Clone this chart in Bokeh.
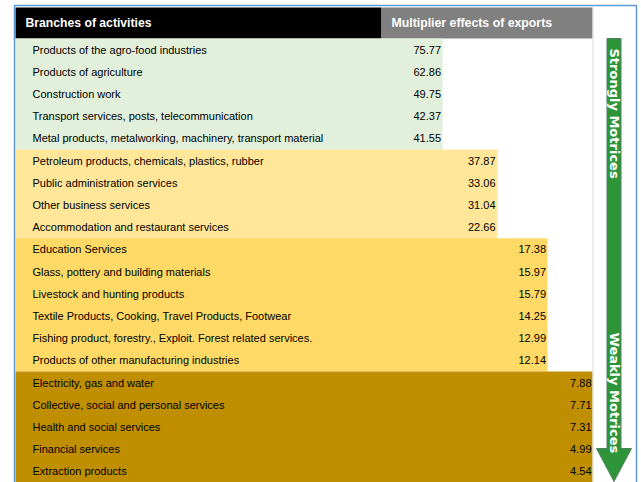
import math
from bokeh.plotting import figure
from bokeh.models import Range1d
from bokeh.core.properties import value
from bokeh.embed import file_html
from bokeh.resources import INLINE

# ---------------- data ----------------
header_left = "Branches of activities"
header_right = "Multiplier effects of exports"

branches = [
    "Products of the agro-food industries",
    "Products of agriculture",
    "Construction work",
    "Transport services, posts, telecommunication",
    "Metal products, metalworking, machinery, transport material",
    "Petroleum products, chemicals, plastics, rubber",
    "Public administration services",
    "Other business services",
    "Accommodation and restaurant services",
    "Education Services",
    "Glass, pottery and building materials",
    "Livestock and hunting products",
    "Textile Products, Cooking, Travel Products, Footwear",
    "Fishing product, forestry., Exploit. Forest related services.",
    "Products of other manufacturing industries",
    "Electricity, gas and water",
    "Collective, social and personal services",
    "Health and social services",
    "Financial services",
    "Extraction products",
]
multipliers = [75.77, 62.86, 49.75, 42.37, 41.55,
               37.87, 33.06, 31.04, 22.66,
               17.38, 15.97, 15.79, 14.25, 12.99, 12.14,
               7.88, 7.71, 7.31, 4.99, 4.54]
group_sizes = [5, 4, 6, 5]
group_colors = ["#E2EFDA", "#FFE699", "#FFD966", "#BF8F00"]
arrow_labels = ["Strongly Motrices", "Weakly Motrices"]

# ---------------- layout (picture pixels) ----------------
W, H = 641, 482
ROW_H = 22.2
ROW0 = 49.0          # picture y of first row centre


def ry(py):
    return (py - ROW0) / ROW_H


group_right = [442, 497, 547, 592]
value_x = [440.5, 495, 545.5, 591]
LABEL_X = 32
TABLE_L = 15

LABEL_FONT = value("Liberation Sans")
ARROW_FONT = value("DejaVu Sans")

p = figure(width=W, height=H, x_range=Range1d(0, W),
           y_range=Range1d(ry(H), ry(0)),
           output_backend="svg", toolbar_location=None, min_border=0,
           x_axis_location=None, y_axis_location=None)
p.grid.visible = False
p.outline_line_color = None
p.background_fill_color = "white"
p.border_fill_color = "white"

# header
hdr_top, hdr_bot = ry(7), ry(37.9)
p.quad(left=[TABLE_L], right=[381], top=[hdr_top], bottom=[hdr_bot],
       fill_color="black", line_color=None)
p.quad(left=[381], right=[592], top=[hdr_top], bottom=[hdr_bot],
       fill_color="#808080", line_color=None)
p.text(x=[25], y=[ry(22.5)], text=[header_left], text_font=LABEL_FONT,
       text_font_size="12.2px", text_font_style="bold", text_color="white",
       text_baseline="middle", text_align="left")
p.text(x=[391], y=[ry(22.5)], text=[header_right], text_font=LABEL_FONT,
       text_font_size="12.3px", text_font_style="bold", text_color="white",
       text_baseline="middle", text_align="left")

# group backgrounds and values
start = 0
vx, vy, vt, gl, gr, gt, gb, gc = [], [], [], [], [], [], [], []
for g, n in enumerate(group_sizes):
    gl.append(TABLE_L)
    gr.append(group_right[g])
    gt.append(start - 0.5)
    gb.append(start + n - 0.5)
    gc.append(group_colors[g])
    for i in range(start, start + n):
        vx.append(value_x[g])
        vy.append(i)
        vt.append(f"{multipliers[i]:.2f}")
    start += n
last_bottom = ry(H + 20)
gb[-1] = last_bottom
p.quad(left=gl, right=gr, top=gt, bottom=gb, fill_color=gc, line_color=None)

# separator line right of table
p.segment(x0=[592.5], y0=[hdr_top], x1=[592.5], y1=[last_bottom],
          line_color="#D9D9D9", line_width=1)

# labels
p.text(x=[LABEL_X] * len(branches), y=list(range(len(branches))), text=branches,
       text_font=LABEL_FONT, text_font_size="11px", text_color="black",
       text_baseline="middle", text_align="left")
p.text(x=vx, y=vy, text=vt, text_font=LABEL_FONT, text_font_size="11px",
       text_color="black", text_baseline="middle", text_align="right")

# outer blue border
p.quad(left=[14], right=[636], top=[ry(5)], bottom=[last_bottom],
       fill_color=None, line_color="#5B9BD5", line_width=1.5)

# arrow
ax = [606.5, 620.5, 620.5, 631, 613.5, 596, 606.5]
ay = [ry(v) for v in [38, 38, 448, 448, 481, 448, 448]]
p.patch(x=ax, y=ay, fill_color="#2E9438", line_color="#4f7f66", line_width=1)
p.text(x=[613.5, 613.5], y=[ry(48), ry(332)], text=arrow_labels,
       text_font=ARROW_FONT, text_font_size="13px", text_font_style="bold",
       text_color="white", angle=-math.pi / 2, text_align="left",
       text_baseline="middle")

open("out.html", "w").write(file_html(p, INLINE))
